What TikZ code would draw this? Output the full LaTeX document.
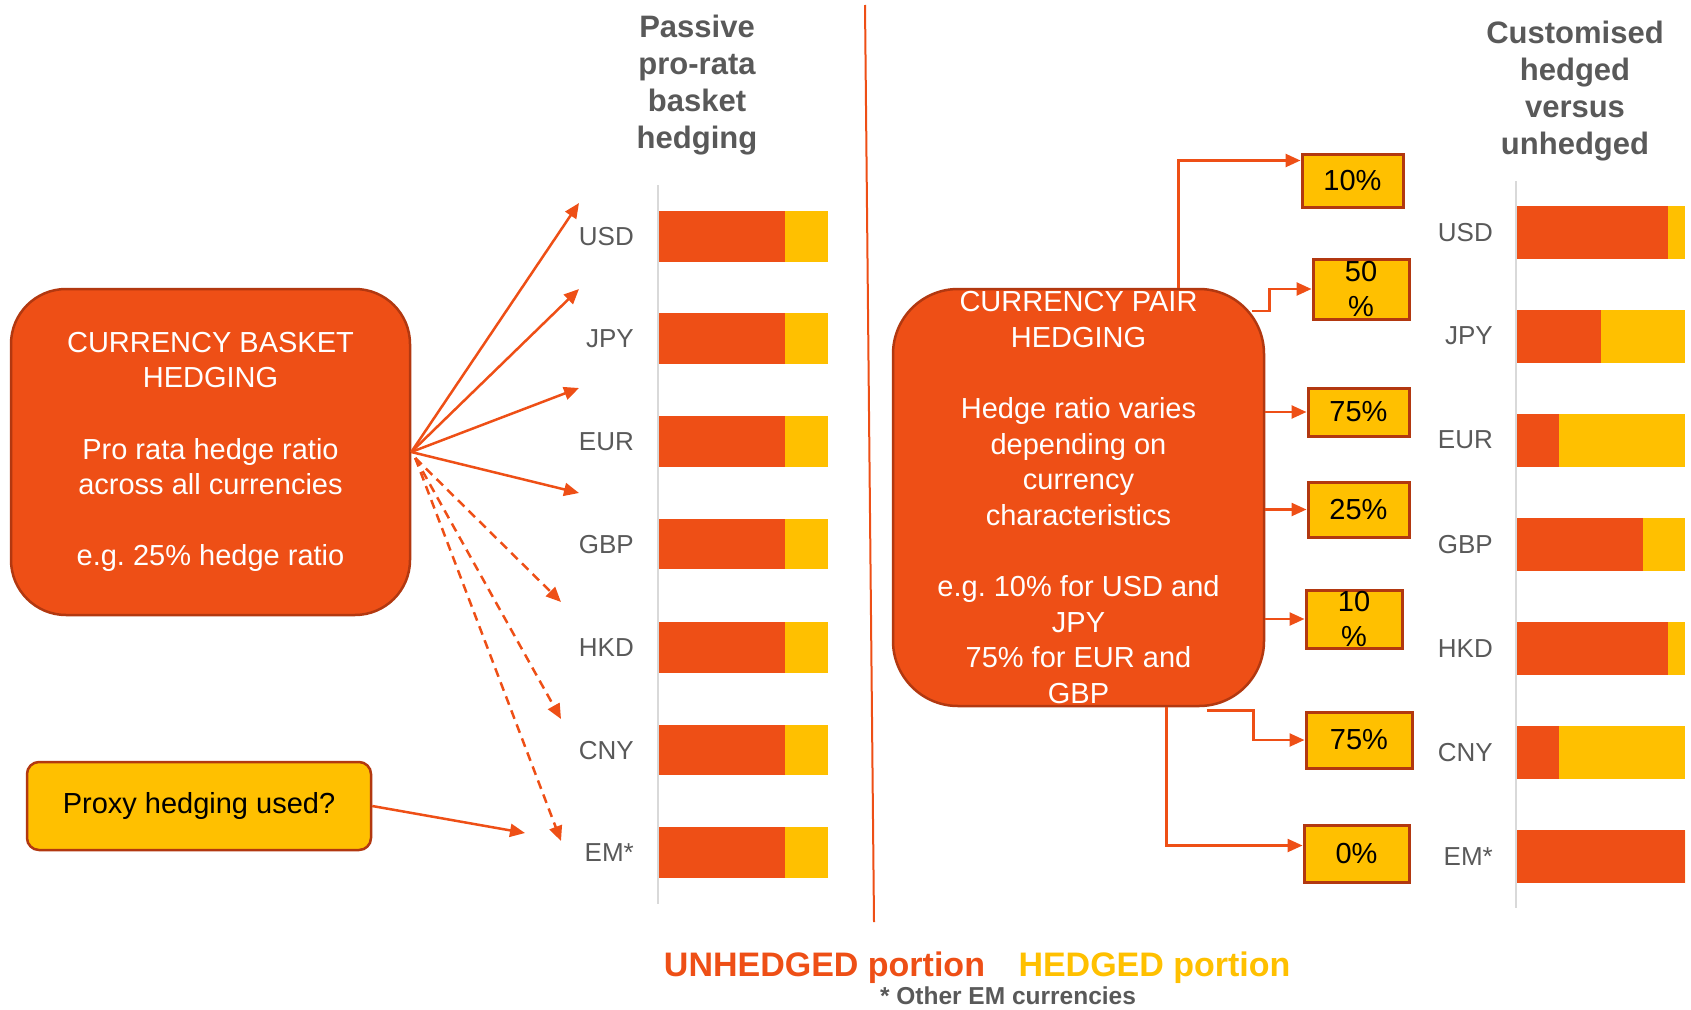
\documentclass[tikz,border=0pt]{standalone}
\usepackage{fontspec}
\setmainfont{Liberation Sans}
\usetikzlibrary{arrows.meta}
\frenchspacing

\definecolor{hedgered}{RGB}{238,79,22}
\definecolor{hedgeyel}{RGB}{255,192,0}
\definecolor{edgered}{RGB}{178,56,16}
\definecolor{labelgray}{RGB}{89,89,89}
\definecolor{axisgray}{RGB}{217,217,217}

\tikzset{
	conn/.style={draw=hedgered, line width=2.5pt, -{Triangle[length=15pt,width=13pt]}},
	bigbox/.style={draw=edgered, line width=2.5pt, fill=hedgered, text=white, align=center, inner sep=0pt, font=\fontsize{29}{35.6}\selectfont},
	pct/.style={draw=edgered, line width=3pt, fill=hedgeyel, align=center, inner sep=0pt, font=\fontsize{29}{35.6}\selectfont},
	curlabel/.style={text=labelgray, anchor=east, inner sep=0pt, font=\fontsize{26}{31}\selectfont},
	heading/.style={text=labelgray, align=center, font=\bfseries\fontsize{31}{37}\selectfont}
}

\begin{document}
\begin{tikzpicture}[x=1pt, y=-1pt]
					\useasboundingbox (0,0) rectangle (1691,1009);
					\node[heading] (hleft)at(697, 85.5) {Passive\\pro-rata\\basket\\hedging};
					\node[heading] (hright)at(1575, 91) {Customised\\hedged\\versus\\unhedged};
					\draw[hedgered, line width=2pt] (865,5) -- (874,922);
					\draw[axisgray, line width=2.5pt] (658,185) -- (658,904);
					\draw[axisgray, line width=2.5pt] (1516,181) -- (1516,908);
					\foreach \cur/\yl/\yr/\ur [count=\i] in {USD/236.7/232.4/0.9, JPY/338.6/336/0.5, EUR/441.7/440/0.25, GBP/544.1/544.1/0.75, HKD/647.6/648.7/0.9, CNY/750.1/752.3/0.25, EM*/852.6/856.9/1}{
						\fill[hedgered] (659,\yl-25.35) rectangle (785,\yl+25.35);
						\fill[hedgeyel] (785,\yl-25.35) rectangle (828,\yl+25.35);
						\fill[hedgered] (1517,\yr-26.5) rectangle ({1517+168*\ur},\yr+26.5);
						\fill[hedgeyel] ({1517+168*\ur},\yr-26.5) rectangle (1685,\yr+26.5);
						\node[curlabel] (ll\i)at(634, \yl) {\cur};
						\node[curlabel] (rl\i)at(1493, \yr) {\cur};
					}
					\node[bigbox, rounded corners=55pt, minimum width=399pt, minimum height=326pt] (basket)at(210.5, 452) {CURRENCY BASKET\\HEDGING\\[35.6pt]Pro rata hedge ratio\\across all currencies\\[35.6pt]e.g. 25\% hedge ratio};
					\node[draw=edgered, line width=2.5pt, fill=hedgeyel, rounded corners=12pt, minimum width=344pt, minimum height=88pt, font=\fontsize{29}{35.6}\selectfont] (proxy)at(199, 806) {\raisebox{-3pt}{Proxy hedging used?}};
					\coordinate (tusd)at(579, 203);
					\coordinate (tjpy)at(579, 289);
					\coordinate (teur)at(579, 388);
					\coordinate (tgbp)at(579, 493);
					\coordinate (thkd)at(561, 602);
					\coordinate (tcny)at(561, 719);
					\coordinate (tem)at(561, 841);
					\coordinate (tproxy)at(525, 833);
					\draw[conn] (basket.east) -- (tusd);
					\draw[conn] (basket.east) -- (tjpy);
					\draw[conn] (basket.east) -- (teur);
					\draw[conn] (basket.east) -- (tgbp);
					\draw[conn, dash pattern=on 9pt off 6pt] ([xshift=4pt,yshift=-6pt]basket.east) -- (thkd);
					\draw[conn, dash pattern=on 9pt off 6pt] ([xshift=4pt,yshift=-6pt]basket.east) -- (tcny);
					\draw[conn, dash pattern=on 9pt off 6pt] ([xshift=4pt,yshift=-6pt]basket.east) -- (tem);
					\draw[conn] (proxy.east) -- (tproxy);
					\node[bigbox, rounded corners=65pt, minimum width=371pt, minimum height=417pt] (pair)at(1078.5, 497.5) {CURRENCY PAIR\\HEDGING\\[35.6pt]Hedge ratio varies\\depending on\\currency\\characteristics\\[35.6pt]e.g. 10\% for USD and\\JPY\\75\% for EUR and\\GBP};
					\node[pct, minimum width=101pt, minimum height=53pt] (p10)at(1352.5, 180.5) {10\%};
					\node[pct, minimum width=96pt, minimum height=60pt] (p50)at(1361, 289) {50\\\%};
					\node[pct, minimum width=101pt, minimum height=48pt] (p75a)at(1358.5, 412) {75\%};
					\node[pct, minimum width=101pt, minimum height=55pt] (p25)at(1358.5, 509.5) {25\%};
					\node[pct, minimum width=96pt, minimum height=58pt] (p10b)at(1354, 619) {10\\\%};
					\node[pct, minimum width=106pt, minimum height=56pt] (p75b)at(1359, 740) {75\%};
					\node[pct, minimum width=105pt, minimum height=57pt] (p0)at(1356.5, 853.5) {0\%};
					\draw[conn] ([xshift=100pt]pair.north) |- ([yshift=20pt]p10.west);
					\draw[conn] ([xshift=-13pt,yshift=-23pt]pair.north east) -- ++(17,0) |- (p50.west);
					\draw[conn] (pair.east |- p75a.west) -- (p75a.west);
					\draw[conn] (pair.east |- p25.west) -- (p25.west);
					\draw[conn] (pair.east |- p10b.west) -- (p10b.west);
					\draw[conn] ([xshift=128pt,yshift=-3pt]pair.south) -- ++(47,0) |- (p75b.west);
					\draw[conn] ([xshift=88pt]pair.south) |- ([yshift=8pt]p0.west);
					\node[text=hedgered, font=\bfseries\fontsize{34}{40}\selectfont] (unhedged)at(824.5, 968) {UNHEDGED portion};
					\node[text=hedgeyel, font=\bfseries\fontsize{34}{40}\selectfont] (hedged)at(1154.5, 968) {HEDGED portion};
					\node[text=labelgray, font=\bfseries\fontsize{24.5}{29}\selectfont] (note)at(1008, 996) {* Other EM currencies};
				\end{tikzpicture}
\end{document}
